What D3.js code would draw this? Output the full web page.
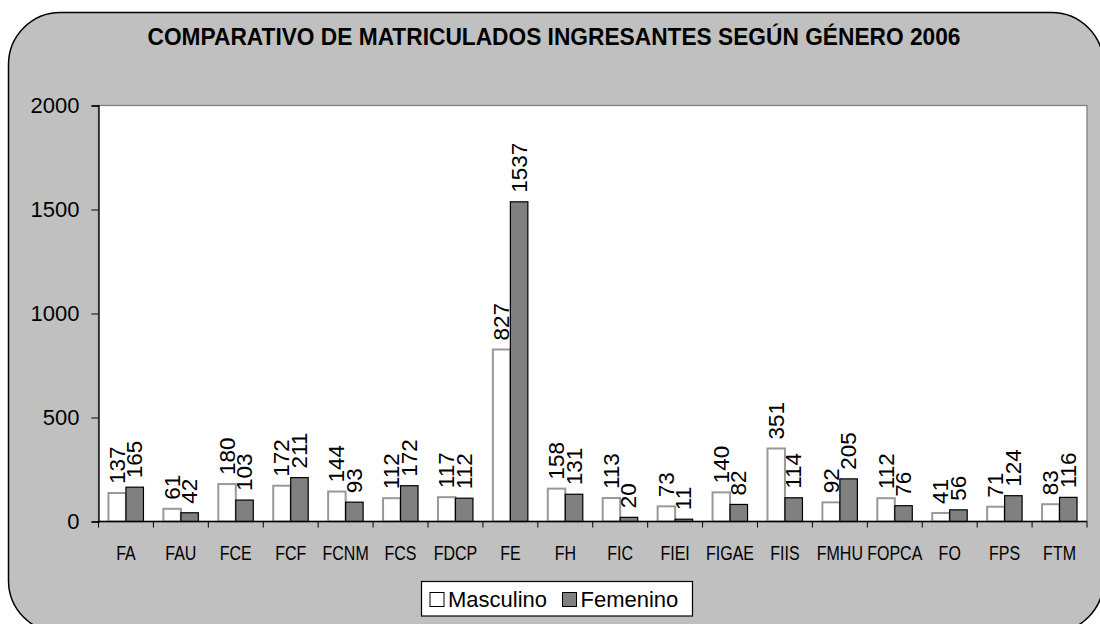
<!DOCTYPE html>
<html>
<head>
<meta charset="utf-8">
<script src="https://cdnjs.cloudflare.com/ajax/libs/d3/7.8.5/d3.min.js"></script>
<style>
  body { margin: 0; background: #fff; }
  svg { display: block; font-family: "Liberation Sans", Arial, sans-serif; }
</style>
</head>
<body>
<div id="chart"></div>
<script>
// data
const categories = ["FA", "FAU", "FCE", "FCF", "FCNM", "FCS", "FDCP", "FE", "FH", "FIC",
  "FIEI", "FIGAE", "FIIS", "FMHU", "FOPCA", "FO", "FPS", "FTM"];
const masculino = [137, 61, 180, 172, 144, 112, 117, 827, 158, 113, 73, 140, 351, 92, 112, 41, 71, 83];
const femenino = [165, 42, 103, 211, 93, 172, 112, 1537, 131, 20, 11, 82, 114, 205, 76, 56, 124, 116];
const seriesNames = ["Masculino", "Femenino"];
const yTicks = [0, 500, 1000, 1500, 2000];
const title = "COMPARATIVO DE MATRICULADOS INGRESANTES SEGÚN GÉNERO 2006";

const W = 1100, H = 624;
const plot = { left: 98.5, top: 105.5, right: 1087, bottom: 521.5 };

const svg = d3.select("#chart").append("svg")
  .attr("width", W)
  .attr("height", H);

// outer rounded frame
svg.append("rect")
  .attr("x", 8.5)
  .attr("y", 12.5)
  .attr("width", 1095)
  .attr("height", 620)
  .attr("rx", 52)
  .attr("fill", "#c0c0c0")
  .attr("stroke", "#000")
  .attr("stroke-width", 1.5);

// title
svg.append("text")
  .attr("x", 554)
  .attr("y", 45)
  .attr("text-anchor", "middle")
  .attr("textLength", 813)
  .attr("lengthAdjust", "spacingAndGlyphs")
  .style("font-size", "24px")
  .style("font-weight", "bold")
  .text(title);

// plot area
svg.append("rect")
  .attr("x", plot.left)
  .attr("y", plot.top)
  .attr("width", plot.right - plot.left)
  .attr("height", plot.bottom - plot.top)
  .attr("fill", "#fff")
  .attr("stroke", "#808080")
  .attr("stroke-width", 1.3);

const x = d3.scaleBand()
  .domain(categories)
  .range([plot.left, plot.right])
  .padding(0);

const xs = d3.scaleBand()
  .domain(seriesNames)
  .range([0, x.bandwidth()])
  .paddingInner(0)
  .paddingOuter(0.57);

const y = d3.scaleLinear()
  .domain([0, 2000])
  .range([plot.bottom, plot.top]);

const rows = categories.map((c, i) => ({ cat: c, values: [masculino[i], femenino[i]] }));

const groups = svg.append("g").selectAll("g")
  .data(rows)
  .join("g")
  .attr("transform", d => `translate(${x(d.cat)},0)`);

// bars
groups.selectAll("rect")
  .data(d => d.values.map((v, j) => ({ name: seriesNames[j], v })))
  .join("rect")
  .attr("x", d => xs(d.name))
  .attr("y", d => y(d.v))
  .attr("width", xs.bandwidth())
  .attr("height", d => y(0) - y(d.v))
  .attr("fill", d => d.name === "Masculino" ? "#fff" : "#808080")
  .attr("stroke", d => d.name === "Masculino" ? "#999" : "#000")
  .attr("stroke-width", d => d.name === "Masculino" ? 2 : 1.2);

// value labels, rotated
groups.selectAll("text")
  .data(d => d.values.map((v, j) => ({ name: seriesNames[j], v })))
  .join("text")
  .attr("transform", d => `translate(${xs(d.name) + xs.bandwidth() / 2},${y(d.v) - 9}) rotate(-90)`)
  .attr("text-anchor", "start")
  .attr("dominant-baseline", "central")
  .style("font-size", "22.5px")
  .text(d => d.v);

// y axis
const yAxis = svg.append("g")
  .attr("transform", `translate(${plot.left},0)`)
  .call(d3.axisLeft(y).tickValues(yTicks).tickFormat(d3.format("d")).tickSize(7).tickPadding(12))
  .call(g => g.select(".domain").attr("stroke", "#000").attr("stroke-width", 1.3));
yAxis.selectAll("text").style("font-size", "22px").attr("fill", "#000").attr("font-family", null);
yAxis.selectAll("line").attr("stroke", "#000");

// x axis: ticks at category boundaries
const xAxisG = svg.append("g")
  .attr("transform", `translate(0,${plot.bottom})`);
xAxisG.append("line")
  .attr("x1", plot.left)
  .attr("x2", plot.right)
  .attr("stroke", "#000")
  .attr("stroke-width", 1.3);
xAxisG.selectAll(".bound")
  .data(categories.concat(["__end"]))
  .join("line")
  .attr("class", "bound")
  .attr("x1", (d, i) => i < categories.length ? x(d) : plot.right)
  .attr("x2", (d, i) => i < categories.length ? x(d) : plot.right)
  .attr("y1", 0)
  .attr("y2", 6)
  .attr("stroke", "#000");
xAxisG.selectAll(".xlab")
  .data(categories)
  .join("text")
  .attr("class", "xlab")
  .attr("transform", d => `translate(${x(d) + x.bandwidth() / 2},38) scale(0.82,1)`)
  .attr("text-anchor", "middle")
  .style("font-size", "19.5px")
  .text(d => d);

// legend
const legend = svg.append("g");
legend.append("rect")
  .attr("x", 421.5)
  .attr("y", 581.5)
  .attr("width", 271)
  .attr("height", 34.5)
  .attr("fill", "#fff")
  .attr("stroke", "#000")
  .attr("stroke-width", 1.2);

const legendItems = [
  { name: seriesNames[0], fill: "#fff", x: 430 },
  { name: seriesNames[1], fill: "#808080", x: 562.5 }
];
legendItems.forEach(it => {
  legend.append("rect")
    .attr("x", it.x)
    .attr("y", 592.5)
    .attr("width", 14)
    .attr("height", 14)
    .attr("fill", it.fill)
    .attr("stroke", "#000");
  legend.append("text")
    .attr("x", it.x + 18)
    .attr("y", 607)
    .style("font-size", "22px")
    .text(it.name);
});
</script>
</body>
</html>
